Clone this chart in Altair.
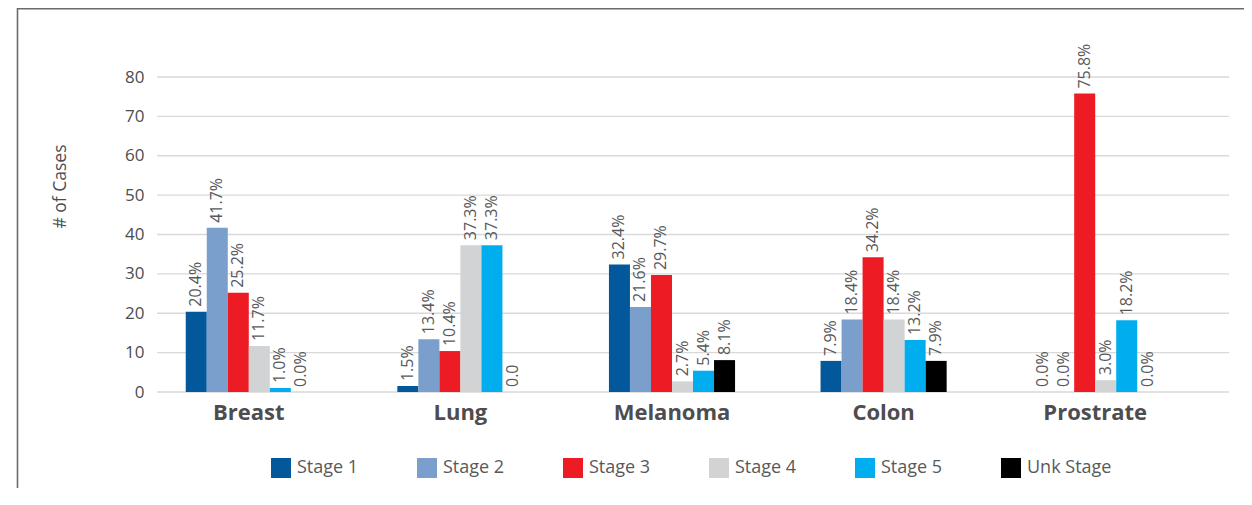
import altair as alt
import pandas as pd

cancers = ["Breast", "Lung", "Melanoma", "Colon", "Prostrate"]
stages = ["Stage 1", "Stage 2", "Stage 3", "Stage 4", "Stage 5", "Unk Stage"]
colors = ["#03589c", "#7a9fcd", "#ed1c24", "#d1d3d4", "#00aeef", "#000000"]

breast = [20.4, 41.7, 25.2, 11.7, 1.0, 0.0]
lung = [1.5, 13.4, 10.4, 37.3, 37.3, 0.0]
melanoma = [32.4, 21.6, 29.7, 2.7, 5.4, 8.1]
colon = [7.9, 18.4, 34.2, 18.4, 13.2, 7.9]
prostrate = [0.0, 0.0, 75.8, 3.0, 18.2, 0.0]

breast_labels = ["20.4%", "41.7%", "25.2%", "11.7%", "1.0%", "0.0%"]
lung_labels = ["1.5%", "13.4%", "10.4%", "37.3%", "37.3%", "0.0"]
melanoma_labels = ["32.4%", "21.6%", "29.7%", "2.7%", "5.4%", "8.1%"]
colon_labels = ["7.9%", "18.4%", "34.2%", "18.4%", "13.2%", "7.9%"]
prostrate_labels = ["0.0%", "0.0%", "75.8%", "3.0%", "18.2%", "0.0%"]

y_ticks = [0, 10, 20, 30, 40, 50, 60, 70, 80]

series = [breast, lung, melanoma, colon, prostrate]
series_labels = [breast_labels, lung_labels, melanoma_labels, colon_labels, prostrate_labels]

rows = []
for c, vals, labs in zip(cancers, series, series_labels):
    for s, v, l in zip(stages, vals, labs):
        rows.append({"cancer": c, "stage": s, "value": v, "label": l})
df = pd.DataFrame(rows)
grid_df = pd.DataFrame({"value": y_ticks})

FONT = "Open Sans"

x_enc = alt.X(
    "cancer:N",
    sort=cancers,
    scale=alt.Scale(paddingInner=0.404, paddingOuter=0.202, range=[-14, 1044]),
    axis=alt.Axis(
        title=None, labelAngle=0, labelFontSize=22, labelFontWeight="bold",
        labelColor="#4d4d4f", labelFont=FONT, domain=False, ticks=False, labelPadding=10,
    ),
)
xo_enc = alt.XOffset("stage:N", sort=stages, scale=alt.Scale(paddingInner=0, paddingOuter=0))
y_enc = alt.Y(
    "value:Q",
    scale=alt.Scale(domain=[0, 80], nice=False),
    axis=alt.Axis(
        values=y_ticks, title="# of Cases", titleFontSize=17.5, titleFontWeight="normal",
        titleColor="#4d4d4f", titleFont=FONT, titleX=-97, titleY=109, titleAngle=270,
        titleAlign="center", titleBaseline="middle",
        labelFontSize=17, labelColor="#4d4d4f", labelFont=FONT, labelPadding=13,
        domain=False, ticks=False, grid=False,
    ),
)

gridlines = alt.Chart(grid_df).mark_rule(color="#d9d9d9", strokeWidth=1.4).encode(
    y=y_enc, x=alt.value(0), x2=alt.value(1072)
)

bars = alt.Chart(df).mark_bar().encode(
    x=x_enc,
    xOffset=xo_enc,
    y=y_enc,
    color=alt.Color(
        "stage:N",
        sort=stages,
        scale=alt.Scale(domain=stages, range=colors),
        legend=alt.Legend(
            title=None, orient="none", legendX=114, legendY=381, direction="horizontal",
            columns=6, gridAlign="all", columnPadding=35, symbolType="square",
            symbolSize=400, symbolStrokeWidth=0, labelFontSize=18, labelColor="#58595b",
            labelFont=FONT, labelOffset=6, labelLimit=200,
        ),
    ),
)

texts = alt.Chart(df).mark_text(
    angle=270, align="left", baseline="middle", dx=5, fontSize=16,
    color="#58595b", font=FONT,
).encode(x=x_enc, xOffset=xo_enc, y=y_enc, text="label:N")

frame_df = pd.DataFrame({"f": [0]})
frame_top = alt.Chart(frame_df).mark_rule(stroke="#6b6b6b", strokeWidth=1.6).encode(
    x=alt.value(-139.5), x2=alt.value(1087), y=alt.value(-68.2)
)
frame_left = alt.Chart(frame_df).mark_rule(stroke="#6b6b6b", strokeWidth=1.6).encode(
    x=alt.value(-139.5), y=alt.value(-69), y2=alt.value(411)
)

chart = alt.layer(frame_top, frame_left, gridlines, bars, texts).properties(
    width=1072,
    height=315,
    padding={"left": 149, "top": 69, "right": 15, "bottom": 96},
    autosize=alt.AutoSizeParams(type="none"),
    background="white",
).configure_view(stroke="transparent", strokeWidth=0)

chart.save("out.html", embed_options={"renderer": "svg", "actions": False})
